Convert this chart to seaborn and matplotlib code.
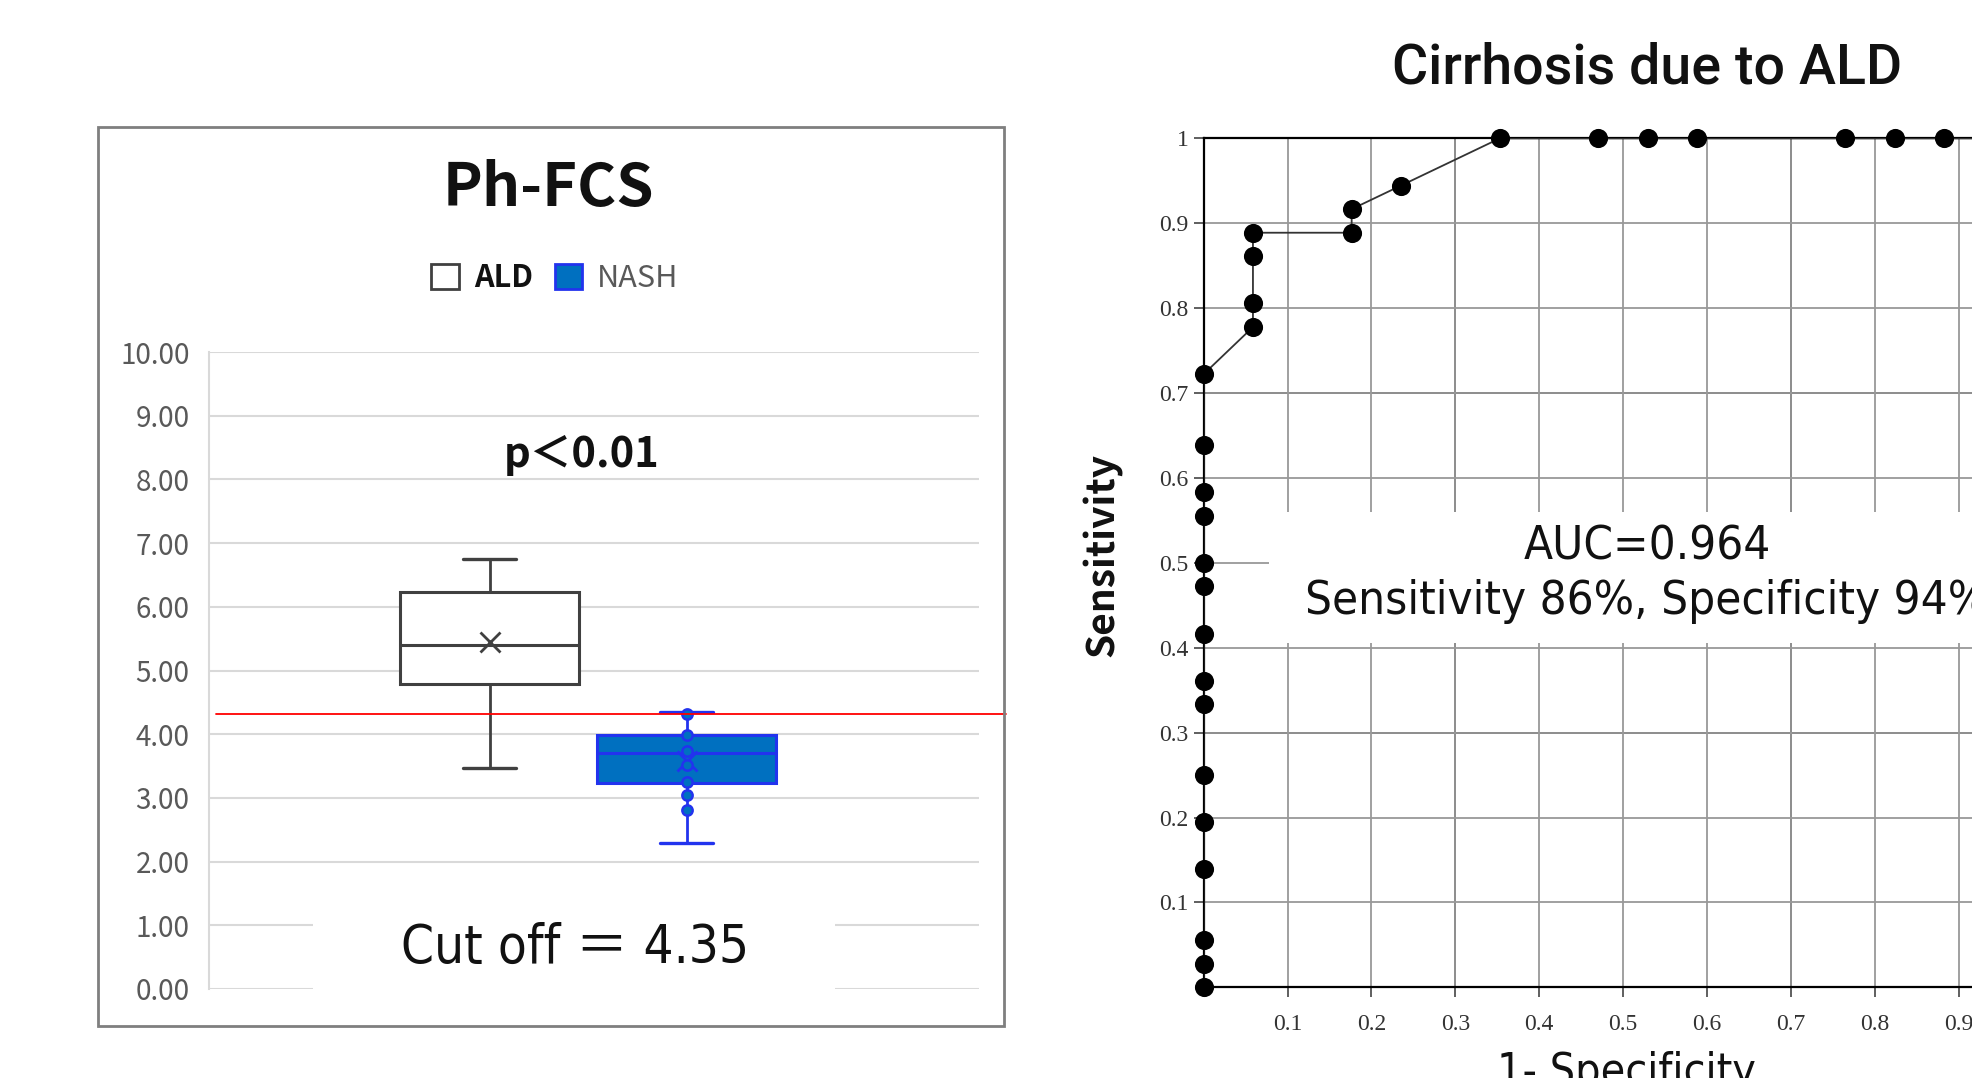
import numpy as np
import pandas as pd
import matplotlib
matplotlib.use('Agg')
import matplotlib.pyplot as plt
from matplotlib.patches import Rectangle, Patch
from matplotlib import font_manager
import seaborn as sns

# ---- Ph-FCS box plot ----
groups = ['ALD', 'NASH']
whis_low = [3.47, 2.29]
q1 = [4.79, 3.24]
median = [5.40, 3.71]
q3 = [6.23, 3.99]
whis_high = [6.75, 4.35]
means = [5.44, 3.58]
nash_points = [4.31, 3.99, 3.74, 3.52, 3.25, 3.04, 2.81]
cutoff = 4.32
ph_ticks = [0, 1, 2, 3, 4, 5, 6, 7, 8, 9, 10]

# ---- ROC curve (counts out of 17 controls / 36 cases) ----
fp_counts = [0, 0, 0, 0, 0, 0, 0, 0, 0, 0, 0, 0, 0, 0, 0,
             1, 1, 1, 1, 3, 3, 4, 6, 8, 9, 10, 13, 14, 15, 17]
tp_counts = [0, 1, 2, 5, 7, 9, 12, 13, 15, 17, 18, 20, 21, 23, 26,
             28, 29, 31, 32, 32, 33, 34, 36, 36, 36, 36, 36, 36, 36, 36]
n_neg = 17
n_pos = 36
roc_ticks = [0.1, 0.2, 0.3, 0.4, 0.5, 0.6, 0.7, 0.8, 0.9, 1.0]

roc = pd.DataFrame({'fpr': np.array(fp_counts) / n_neg,
                    'tpr': np.array(tp_counts) / n_pos})

sns.set_theme(style='white')
jp = ['Noto Sans CJK JP', 'DejaVu Sans']
plt.rcParams['font.family'] = jp

# the annotation font in the picture is a condensed gothic; use a narrow
# face if one is installed, otherwise Roboto a bit smaller
fonts = font_manager.fontManager.ttflist
names = {f.name for f in fonts}
if 'Liberation Sans Narrow' in names:
    narrow = dict(family=['Liberation Sans Narrow', 'Noto Sans CJK JP'])
    nsize = 36
elif any(f.name == 'DejaVu Sans' and 'ondensed' in str(f.stretch) + f.fname for f in fonts):
    narrow = dict(family=['DejaVu Sans', 'Noto Sans CJK JP'], stretch='condensed')
    nsize = 34
else:
    narrow = dict(family=['Roboto', 'Noto Sans CJK JP'])
    nsize = 32

W, H = 1972, 1078
fig = plt.figure(figsize=(W / 100, H / 100), dpi=100)
fig.patch.set_facecolor('white')


def fx(px):
    return px / W


def fy(py):
    return 1 - py / H


# ===================== left panel =====================
frame = Rectangle((fx(98), fy(1026)), fx(906), 899 / H, transform=fig.transFigure,
                  fill=False, edgecolor='#7f7f7f', lw=2.0, zorder=5)
fig.patches.append(frame)

ax1 = fig.add_axes([fx(209), fy(989), fx(770), 637 / H])
ax1.set_xlim(-1.4225, 2.482)
ax1.set_ylim(0, 10)
ax1.set_yticks(ph_ticks)
ax1.set_yticklabels(['%.2f' % t for t in ph_ticks])
ax1.set_xticks([])
ax1.tick_params(axis='y', length=0, pad=14, labelsize=20, labelcolor='#595959')
ax1.yaxis.grid(True, color='#d9d9d9', lw=1.5)
ax1.set_axisbelow(True)
for s in ['top', 'right', 'bottom']:
    ax1.spines[s].set_visible(False)
ax1.spines['left'].set_color('#d9d9d9')
ax1.spines['left'].set_linewidth(1.5)

edge_cols = ['#404040', '#2233ee']
fill_cols = ['white', '#0070C0']
stats = []
for i, g in enumerate(groups):
    stats.append({'label': g, 'whislo': whis_low[i], 'q1': q1[i], 'med': median[i],
                  'q3': q3[i], 'whishi': whis_high[i], 'mean': means[i], 'fliers': []})

for i in range(2):
    ax1.bxp([stats[i]], positions=[i], widths=0.908, capwidths=0.27,
            patch_artist=True, showmeans=True, showfliers=False,
            boxprops=dict(facecolor=fill_cols[i], edgecolor=edge_cols[i], lw=2.2),
            medianprops=dict(color=edge_cols[i], lw=2.2),
            whiskerprops=dict(color=edge_cols[i], lw=2.0),
            capprops=dict(color=edge_cols[i], lw=2.4),
            meanprops=dict(marker='x', markeredgecolor=edge_cols[i],
                           markersize=15, markeredgewidth=2.0),
            manage_ticks=False)

sns.scatterplot(x=[1] * len(nash_points), y=nash_points, ax=ax1, s=55,
                color='#0070C0', edgecolor='#2233ee', linewidth=1.8, zorder=4)

ax1.axhline(cutoff, xmin=0.009, xmax=1.035, color='#ff0000', lw=1.3,
            clip_on=False, zorder=6)

fig.text(fx(548), fy(189), 'Ph-FCS', ha='center', va='center',
         fontsize=43, fontweight='bold', color='#111111')
ax1.text(0.484, 8.38, 'p＜0.01', transform=ax1.get_yaxis_transform(),
         ha='center', va='center', fontsize=30, fontweight='bold', color='#111111')

# white box behind the cut off text
cover = Rectangle((fx(313), fy(1005)), fx(522), 100 / H, transform=fig.transFigure,
                  facecolor='white', edgecolor='none', zorder=1)
fig.patches.append(cover)
fig.text(fx(575), fy(948), 'Cut off ＝ 4.35', ha='center', va='center',
         fontsize=nsize + 4, color='#111111', zorder=3, **narrow)

leg = fig.legend(handles=[Patch(facecolor='white', edgecolor='#404040', lw=2),
                          Patch(facecolor='#0070C0', edgecolor='#2233ee', lw=2)],
                 labels=groups, ncol=2, loc='center',
                 bbox_to_anchor=(fx(555), fy(278)), frameon=False, fontsize=22,
                 handlelength=0.9, handleheight=0.9, handletextpad=0.5,
                 columnspacing=0.7)
leg.get_texts()[0].set_fontweight('bold')
leg.get_texts()[0].set_color('#111111')
leg.get_texts()[1].set_color('#595959')

# ===================== right panel (ROC) =====================
ax2 = fig.add_axes([fx(1203.6), fy(987.3), fx(839), 848.9 / H])
ax2.set_xlim(0, 1)
ax2.set_ylim(0, 1)
ax2.set_xticks(roc_ticks)
ax2.set_xticklabels(['%.1f' % t for t in roc_ticks[:-1]] + ['1'])
ax2.set_yticks(roc_ticks)
ax2.set_yticklabels(['%.1f' % t for t in roc_ticks[:-1]] + ['1'])
ax2.grid(True, color='#999999', lw=1.3)
ax2.set_axisbelow(True)
for v in [0.3, 0.7]:
    ax2.axhline(v, color='#222222', lw=1.3, zorder=0.5)
    ax2.axvline(v, color='#222222', lw=1.3, zorder=0.5)
ax2.tick_params(axis='both', direction='out', length=7, width=1.2, color='#444444',
                labelsize=17, labelcolor='#333333', bottom=True, left=True)
ax2.tick_params(axis='x', pad=12)
ax2.tick_params(axis='y', pad=4)
for lab in ax2.get_xticklabels() + ax2.get_yticklabels():
    lab.set_family(['Liberation Serif', 'DejaVu Serif'])
for s in ['left', 'bottom', 'top']:
    ax2.spines[s].set_color('black')
    ax2.spines[s].set_linewidth(1.6)
ax2.spines['right'].set_visible(False)

ax2.add_patch(Rectangle((0.078, 0.405), 1.2, 0.155, facecolor='white',
                        edgecolor='none', zorder=2, clip_on=False))

sns.lineplot(data=roc, x='fpr', y='tpr', sort=False, estimator=None, ax=ax2,
             color='#333333', lw=1.3, zorder=3)
sns.scatterplot(data=roc, x='fpr', y='tpr', ax=ax2, s=190, color='black',
                edgecolor='black', linewidth=0, zorder=4, clip_on=False)
ax2.set_xlabel('')
ax2.set_ylabel('')

fig.text(fx(1647), fy(68), 'Cirrhosis due to ALD', ha='center', va='center',
         fontsize=40, fontweight='medium', family=['Roboto', 'DejaVu Sans'],
         color='#111111')
fig.text(fx(1647), fy(547), 'AUC=0.964', ha='center', va='center',
         fontsize=nsize, color='#111111', zorder=5, **narrow)
fig.text(fx(1647), fy(601), 'Sensitivity 86%, Specificity 94%', ha='center',
         va='center', fontsize=nsize, color='#111111', zorder=5, **narrow)
fig.text(fx(1102), fy(555), 'Sensitivity', rotation=90, ha='center', va='center',
         fontsize=28, fontweight='bold', color='#111111')
fig.text(fx(1626), fy(1051), '1- Specificity', ha='center', va='top',
         fontsize=nsize - 2, color='#111111', **narrow)

fig.savefig('out.png', dpi=100, facecolor='white')
